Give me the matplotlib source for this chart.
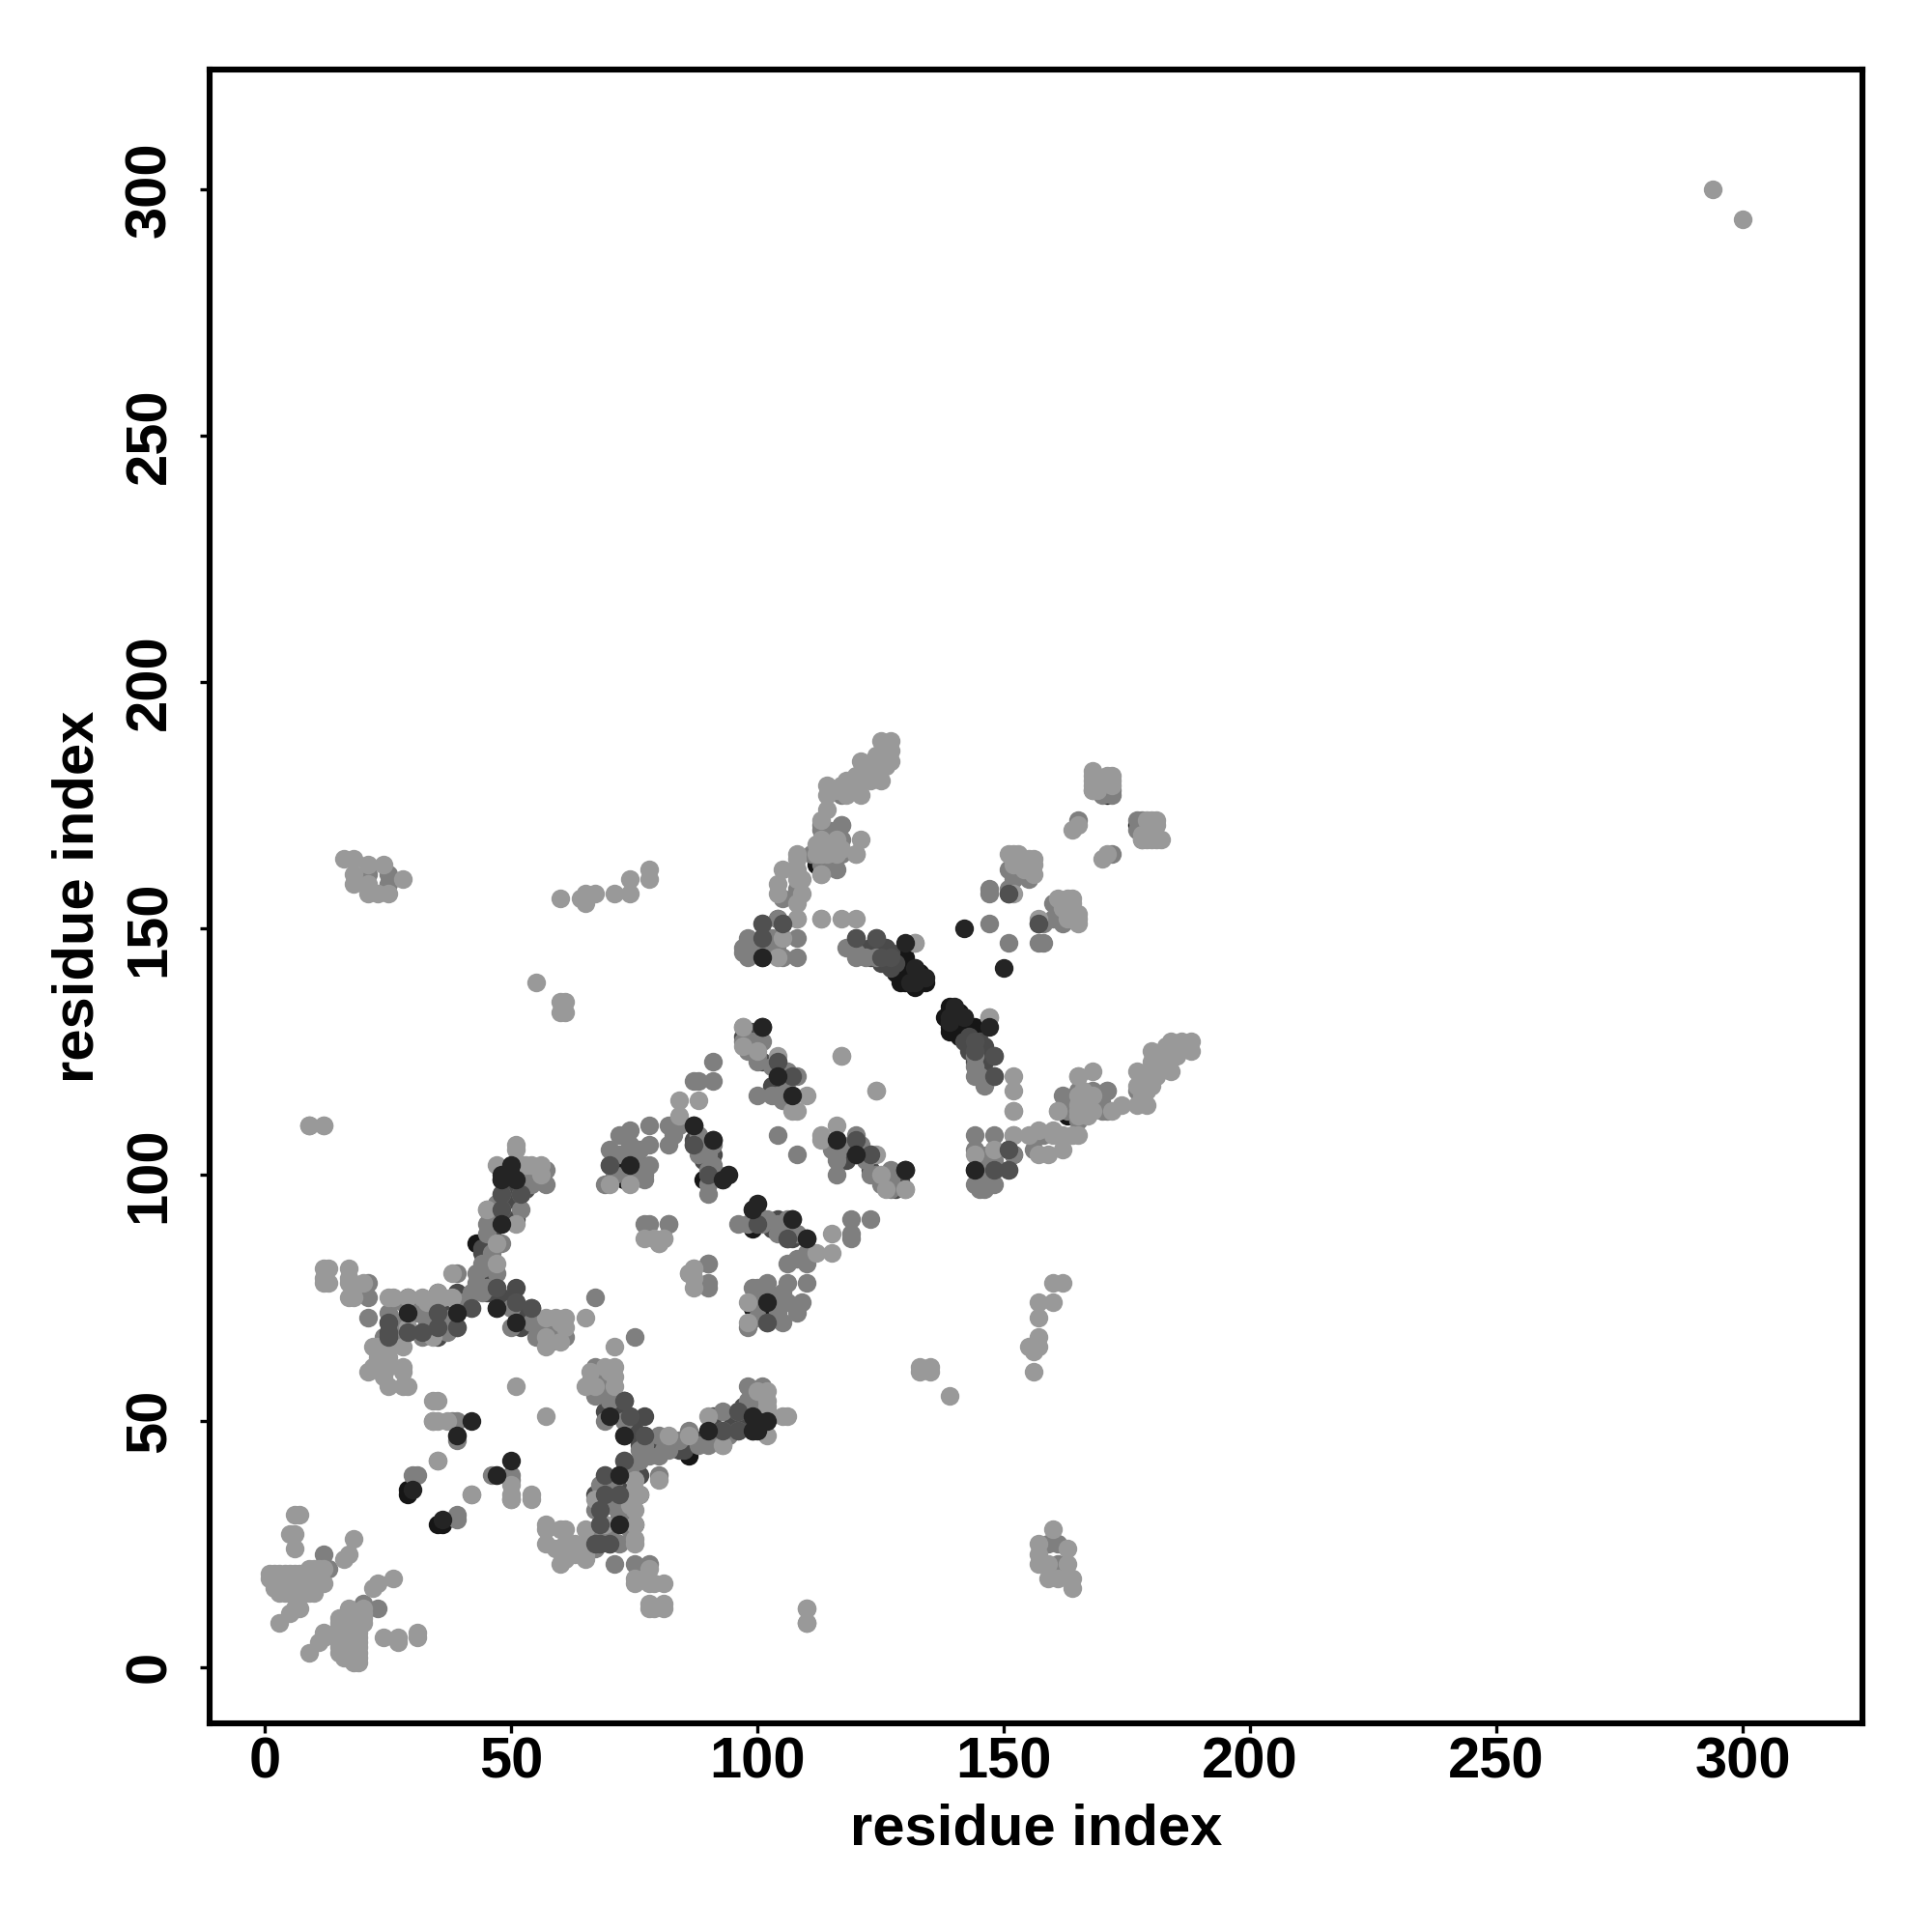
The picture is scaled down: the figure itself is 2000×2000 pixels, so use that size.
import matplotlib
matplotlib.use("Agg")
from matplotlib import pyplot as plt

# contacts (i, j) with i < j, the map is symmetric so each one is drawn twice
# dark ones that sit under the lighter dots
black_under = [(29,35),(29,36),(29,72),(39,72),(43,86),(48,99),(51,99),(89,99),(47,73),(51,70),
               (73,99),(99,93),(129,141),(130,139),(132,139),(133,139),(131,139),(130,144),
               (131,142),(130,142),(129,139),(132,142),(113,165),(171,177),(107,116),(104,120),(101,144),
               (130,143),(131,141),(133,140),(133,141),(134,139),(132,138),(130,140),(130,141),(128,141),
               (72,102),(46,76),(30,72),(112,163)]
dark_under = [(25,70),(25,67),(35,72),(35,69),(47,77),(46,76),(44,80),(48,90),(48,93),(70,102),
              (87,106),(87,110),(91,104),(90,100),(87,107),(120,148),(124,148),(151,157),
              (122,145),(123,144),(125,144),(127,144),(127,145),(124,145),(101,148),(105,151),
              (104,152),(148,101),(105,148),(73,54),(51,74),(54,73),(51,77),(104,123),(107,120),(101,123),
              (128,143),(127,144),(126,144),(125,145),(126,146),(125,143),(126,143),(127,142),(123,146),
              (29,68),(31,74),(35,76),(36,72),(39,76),(44,85),(44,78),(45,76),(48,75),(49,74),(52,72),
              (53,71),(52,69),(44,84),(46,88),(47,91),(48,95),(49,97),(91,107),(90,102),(89,103),(75,104),
              (73,100),(76,102),(103,118),(99,128),(99,129),(97,128),(100,126),(35,67),(72,29),(75,29),
              (53,99),(53,97),(50,95),(50,98),(47,92),(51,91)]
mid = [(21,78),(21,75),(21,71),(25,72),(31,72),(32,67),(39,69),(42,73),(67,75),(39,80),(44,82),
       (50,73),(55,67),(50,69),(57,68),(61,67),(43,80),(45,93),(45,90),(57,101),(57,98),(54,98),
       (52,96),(48,96),(52,93),(48,86),(70,105),(74,106),(74,109),(77,99),(78,102),(78,106),
       (78,110),(69,98),(77,90),(82,90),(82,106),(82,110),(84,110),(88,119),(87,119),(91,119),
       (91,123),(90,96),(94,100),(97,130),(97,127),(99,127),(100,123),(103,116),(104,116),(108,120),
       (90,82),(90,78),(97,145),(98,144),(101,151),(104,152),(108,152),(111,165),(113,170),(117,171),
       (116,162),(117,168),(120,165),(21,161),(25,161),(25,159),(42,35),(34,50),(38,50),(39,50),
       (30,39),(31,39),(39,47),(39,46),(12,23),(13,20),(147,157),(151,162),(155,160),(152,161),
       (132,147),(168,178),(170,177),(172,178),(113,171),(117,171),(117,177),(104,108),(100,116),
       (120,144),(144,108),(145,104),(147,151),(147,158),(151,158),(165,172),
       (26,68),(27,66),(24,67),(26,70),(27,70),(28,74),(33,70),(34,72),(37,70),(38,71),(36,69),(37,68),
       (40,74),(41,74),(42,76),(43,78),(44,76),(45,77),(54,70),(55,70),(56,69),(58,69),(59,68),(58,66),
       (60,67),(47,80),(44,81),(46,84),(45,88),(46,90),(47,94),(48,93),(53,100),(71,100),(72,104),(75,103),
       (76,105),(75,100),(77,100),(72,108),(74,100),
       (88,108),(89,106),(90,105),(91,102),(90,101),(91,100),(92,100),(88,104),(83,108),(90,98),(90,104),
       (91,106),(90,106),(106,121),(103,122),(100,124),(98,125),(101,127),(105,115),(106,117),(99,125),
       (105,156),(108,158),(113,163),(113,167),(114,168),(116,166),(116,170),(114,170),(117,165),
       (97,146),(98,148),(100,147),(101,146),(102,146),(103,148),(105,144),(104,147),(108,148),(118,146),
       (120,145),(122,144),(124,144),(153,163),(152,160),(155,162),(169,180),(170,179),(171,178),(172,177)]
light = [(1,19),(2,19),(3,19),(4,19),(5,19),(6,19),(7,19),(8,19),(1,18),(2,18),(3,18),(4,18),(5,18),(6,18),
         (7,18),(2,17),(3,17),(4,17),(5,17),(6,17),(7,17),(8,17),(2,16),(3,16),(4,16),(5,16),(6,16),(7,16),(8,16),(9,16),
         (3,15),(4,15),(5,15),(6,15),(7,15),(8,15),(9,15),(10,15),(9,18),(9,19),(10,19),(10,20),(11,19),(11,18),
         (11,17),(12,17),(9,20),(11,20),(12,20),(3,9),(5,11),(6,12),(7,12),(6,24),(5,27),(6,27),
         (6,31),(7,31),(16,22),(17,23),(18,26),
         (12,81),(13,81),(12,79),(12,78),(13,78),(17,81),(17,79),(17,78),(18,77),(18,75),(17,75),
         (20,78),(25,75),(32,75),(29,75),(35,76),(36,75),(25,65),(22,65),(23,63),(22,61),(25,61),
         (28,61),(21,60),(25,57),(28,57),(29,57),(28,65),(29,69),(34,67),(24,59),(24,61),(25,63),(23,65),
         (28,60),(38,75),(33,74),(26,75),
         (34,54),(35,54),(34,50),(35,50),(35,42),(37,50),(51,57),(65,71),(57,71),(57,65),(61,71),
         (51,106),(47,102),(52,102),(54,102),(45,93),(51,90),(47,86),(47,82),(38,80),(60,70),(59,71),
         (56,100),(56,102),(53,102),(51,105),(60,66),(61,69),(57,67),
         (16,164),(18,164),(21,163),(24,163),(18,159),(18,161),(21,159),(21,157),(23,157),(25,157),
         (28,160),(60,156),(64,156),(65,155),(67,157),(65,157),(71,157),(74,160),(74,157),(78,162),
         (78,160),(55,139),(60,135),(61,135),(60,133),(61,133),(9,110),(12,110),(9,110),
         (74,98),(70,98),(84,115),(88,115),(84,112),(77,87),(81,87),(80,86),(87,81),(86,80),(87,79),
         (110,9),(110,12),(117,124),(104,124),(100,125),(108,152),(113,152),(117,152),(120,152),
         (104,144),(105,148),(104,157),(105,162),(104,159),(108,164),(108,160),(109,160),(109,157),
         (108,155),(113,161),(114,174),(114,177),(114,179),(118,180),(118,177),(121,177),(121,184),
         (121,180),(125,188),(127,188),(125,180),(127,184),(125,183),(121,168),(120,165),
         (113,152),(130,97),(132,147),(124,117),(108,162),
         (112,165),(112,167),(113,168),(114,165),(115,167),(116,165),(116,168),(113,172),(115,178),
         (116,178),(117,179),(119,179),(120,181),(122,182),(123,183),(124,182),(126,185),(124,185),(123,180),
         (126,183),(127,186),(108,165),(113,165),(117,166),
         (152,157),(155,164),(156,161),(151,165),(152,165),(154,162),(156,164),(165,171),(164,170),
         (168,182),(168,181),(168,180),(168,179),(172,180),(172,179),(168,178),(171,181),(172,181),(169,178),
         (152,163),(153,165),(156,163),
         (97,126),(107,113),(108,113),(110,116),(113,161),(294,300)]
# mixed greys that show over the light ones
dark_mid = [(25,70),(25,67),(25,68),(29,68),(32,68),(35,72),(35,69),(47,77),(54,73),(51,74),(70,102),
            (48,93),(48,96),(87,106),(87,110),(91,107),(90,100),(107,120),(130,101),(124,148),(120,148),
            (127,144),(125,144),(151,157),(105,151),(101,151),(101,148),(104,123),(42,73),(39,69),(52,96)]
# dots that are fully on top in the original
dark_top = [(42,50),(30,36),(39,47),(50,102),(74,102),(101,130),(107,91),(110,87),(100,94),
            (116,107),(120,104),(130,101),(101,144),(130,147),(134,140),(132,139),(142,150),
            (132,142),(131,139),(93,99),(47,73),(29,72),(39,72),(51,70),(48,90),(48,99),(48,100),(50,100),(51,99)]

tick_vals = [0, 50, 100, 150, 200, 250, 300]
plt.rcParams['font.family'] = ['Liberation Sans', 'DejaVu Sans']

fig = plt.figure(figsize=(20, 20), dpi=100)
ax = fig.add_axes([216.5/2000, 216/2000, 1711.5/2000, 1712/2000])

# lower drawn first
layers = [(black_under, '#161616'), (dark_under, '#4a4a4a'), (mid, '#7f7f7f'),
          (light, '#999999'), (dark_mid, '#505050'), (dark_top, '#242424')]
for pairs, colour in layers:
    xs = [p[0] for p in pairs] + [p[1] for p in pairs]
    ys = [p[1] for p in pairs] + [p[0] for p in pairs]
    ax.scatter(xs, ys, s=195, c=colour, linewidths=0, zorder=2)

ax.set_xlim(-11.3, 324.3)
ax.set_ylim(-11.4, 324.3)
ax.set_xticks(tick_vals)
ax.set_yticks(tick_vals)
ax.tick_params(axis='both', length=7, width=2.4, labelsize=43)
ax.tick_params(axis='x', pad=3)
ax.tick_params(axis='y', labelrotation=90, pad=17)
for lab in ax.get_yticklabels():
    lab.set_va('center')
for lab in ax.get_xticklabels() + ax.get_yticklabels():
    lab.set_fontweight('bold')
for sp in ax.spines.values():
    sp.set_linewidth(4.4)

ax.set_xlabel('residue index', fontsize=43, fontweight='bold', va='center')
ax.set_ylabel('residue index', fontsize=43, fontweight='bold', va='center')
ax.xaxis.set_label_coords(0.5, -(1894 - 1784) / 1712)
ax.yaxis.set_label_coords(-(216.5 - 81.5) / 1711.5, 0.5)

plt.savefig('out.png', dpi=100)
